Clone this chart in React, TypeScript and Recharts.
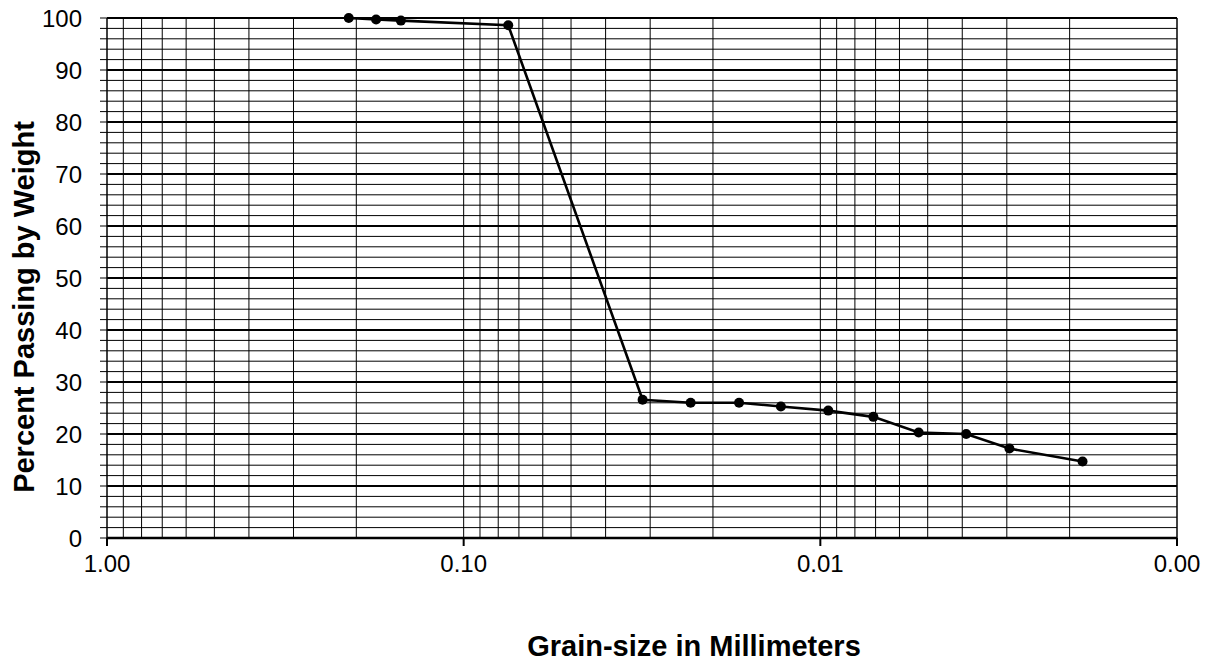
import React from 'react';
import { LineChart, Line, XAxis, YAxis, ReferenceLine, Label } from 'recharts';

// grain sizes (mm) and percent passing
const grainSizes = [0.21, 0.176, 0.15, 0.075, 0.0315, 0.0231, 0.0169, 0.0129, 0.0095, 0.0071, 0.0053, 0.0039, 0.00295, 0.00184];
const percentPassing = [100, 99.7, 99.5, 98.6, 26.6, 26.0, 26.0, 25.3, 24.5, 23.3, 20.3, 20.0, 17.2, 14.7];

const xTicks = [1, 0.1, 0.01, 0.001];
const yTicks = [0, 2, 4, 6, 8, 10, 12, 14, 16, 18, 20, 22, 24, 26, 28, 30, 32, 34, 36, 38, 40, 42, 44, 46, 48, 50, 52, 54, 56, 58, 60, 62, 64, 66, 68, 70, 72, 74, 76, 78, 80, 82, 84, 86, 88, 90, 92, 94, 96, 98, 100];
const decades = [0.1, 0.01, 0.001];
const minorMultipliers = [2, 3, 4, 5, 6, 7, 8, 9];

const FONT = '"Liberation Sans", Arial, sans-serif';

const data = grainSizes.map((size, i) => ({ size, pct: percentPassing[i] }));

// log minor gridlines, e.g. 0.2..0.9, 0.02..0.09, ...
const minorX = decades.flatMap(d => minorMultipliers.map(m => +(m * d).toPrecision(3)));

const XTitle = (props: any) => {
  const { viewBox } = props;
  return (
    <text x={viewBox.x + viewBox.width / 2 + 52} y={656} textAnchor="middle"
      fontFamily={FONT} fontSize={29} fontWeight="bold" fill="#000">
      Grain-size in Millimeters
    </text>
  );
};

const YTitle = () => (
  <text x={34} y={307} textAnchor="middle" transform="rotate(-90, 34, 307)"
    fontFamily={FONT} fontSize={29} fontWeight="bold" fill="#000">
    Percent Passing by Weight
  </text>
);

export default function App() {
  return (
    <div style={{ position: 'absolute', left: 0, top: 0, background: '#fff' }}>
      <LineChart width={1215} height={662} data={data}
        margin={{ top: 18, right: 38, bottom: 84, left: 47 }}>
        {yTicks.map(v => (
          <ReferenceLine key={`h${v}`} y={v} stroke="#000"
            strokeWidth={v % 10 === 0 ? 2.2 : 1} ifOverflow="extendDomain" />
        ))}
        {minorX.map(v => (
          <ReferenceLine key={`v${v}`} x={v} stroke="#000" strokeWidth={1} />
        ))}
        <ReferenceLine x={0.1} stroke="#000" strokeWidth={1} />
        <ReferenceLine x={0.01} stroke="#000" strokeWidth={1} />
        <ReferenceLine x={0.001} stroke="#000" strokeWidth={1.5} />
        <XAxis dataKey="size" type="number" scale="log" domain={[0.001, 1]} reversed
          allowDataOverflow ticks={xTicks} interval={0}
          tickFormatter={(v: number) => v.toFixed(2)}
          height={40} tickSize={8} tickMargin={9}
          axisLine={{ stroke: '#000', strokeWidth: 2.5 }}
          tickLine={{ stroke: '#000', strokeWidth: 2 }}
          tick={{ fill: '#000', fontSize: 24, fontFamily: FONT }}>
          <Label content={XTitle} />
        </XAxis>
        <YAxis type="number" domain={[0, 100]} ticks={yTicks} interval={0} width={60}
          tickFormatter={(v: number) => (v % 10 === 0 ? String(v) : '')}
          tickSize={7} tickMargin={18}
          axisLine={{ stroke: '#000', strokeWidth: 1.5 }}
          tickLine={{ stroke: '#000', strokeWidth: 1 }}
          tick={{ fill: '#000', fontSize: 24, fontFamily: FONT }}>
          <Label content={YTitle} />
        </YAxis>
        <Line dataKey="pct" type="linear" stroke="#000" strokeWidth={2.6}
          dot={{ r: 5, fill: '#000', stroke: '#000', strokeWidth: 0 }}
          isAnimationActive={false} />
      </LineChart>
    </div>
  );
}
